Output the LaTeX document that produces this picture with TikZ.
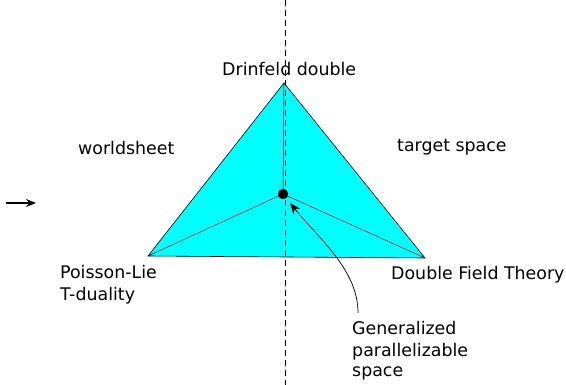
\documentclass[tikz,border=0pt]{standalone}
\usepackage{fontspec}
\setmainfont{DejaVu Sans}
\usetikzlibrary{arrows.meta}
\definecolor{facecyan}{RGB}{0,255,255}
\tikzset{
  label text/.style={font=\fontsize{17.4}{22}\selectfont, inner sep=0pt, anchor=base west},
  face/.style={fill=facecyan, draw=black, line width=0.6pt},
  spoke/.style={draw=black, line width=0.5pt},
  axis line/.style={line width=0.8pt, dash pattern=on 6pt off 4pt}
}
\begin{document}
\begin{tikzpicture}[x=1pt, y=-1pt, >=Stealth]
    \useasboundingbox (0,0) rectangle (566,385);

    % vertices of the triangle
    \coordinate (D) at (284, 83);
    \coordinate (P) at (148, 256);
    \coordinate (F) at (425, 258);
    \coordinate (G) at (283, 194);

    \draw[face] (D) -- (F) -- (P) -- cycle;
    \draw[spoke] (G) -- (D);
    \draw[spoke] (G) -- (P);
    \draw[spoke] (G) -- (F);

    % dividing line
    \coordinate (top) at (285, 0);
    \coordinate (bot) at (285, 385);
    \draw[axis line] (top) -- (bot);

    \fill (G) circle (5.2);

    % labels
    \node[label text] (dd) at (222, 76) {Drinfeld double};
    \node[label text] (ws) at (78, 155) {worldsheet};
    \node[label text] (ts) at (397, 152) {target space};
    \node[label text] (pl) at (60, 279) {Poisson-Lie};
    \node[label text] (td) at (60, 301) {T-duality};
    \node[label text] (dft) at (391, 280) {Double Field Theory};
    \node[label text] (gp1) at (352, 335) {Generalized};
    \node[label text] (gp2) at (352, 356) {parallelizable};
    \node[label text] (gp3) at (352, 377) {space};

    % arrows
    \coordinate (a1) at (6, 203);
    \coordinate (a2) at (36, 203);
    \draw[-{Stealth[length=10pt, width=8pt]}, line width=1.4pt] (a1) -- (a2);
    \coordinate (c1) at (358, 313);
    \coordinate (c2) at (290, 203);
    \draw[-{Stealth[length=11pt, width=9pt]}, line width=0.7pt] (c1) .. controls (358, 270) and (320, 240) .. (c2);
\end{tikzpicture}
\end{document}
